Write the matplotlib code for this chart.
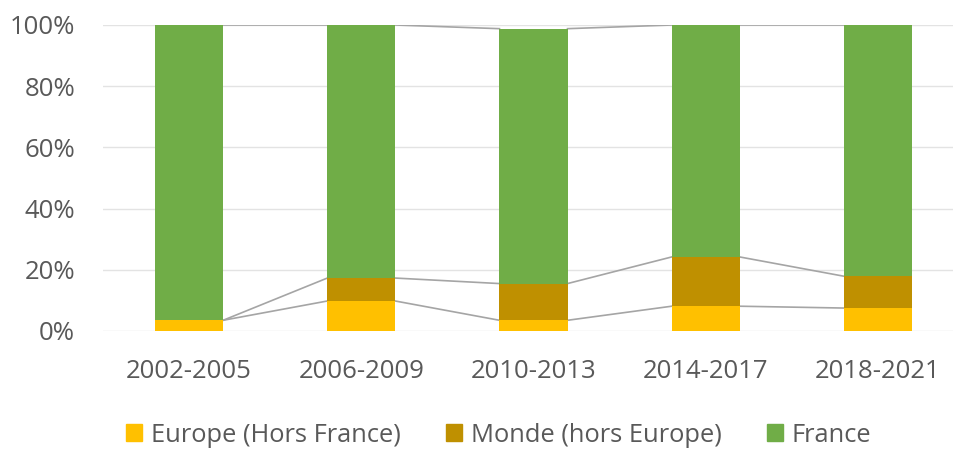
import numpy as np
import matplotlib.pyplot as plt
from matplotlib.patches import Patch

# Periods and shares (%)
periods = ["2002-2005", "2006-2009", "2010-2013", "2014-2017", "2018-2021"]
europe = [3.5, 9.8, 3.5, 8.1, 7.5]
monde = [0.0, 7.5, 12.0, 16.1, 10.4]
france = [96.5, 82.7, 83.3, 75.8, 82.1]

labels = ["Europe (Hors France)", "Monde (hors Europe)", "France"]
colors = ["#FFC000", "#BF9000", "#70AD47"]

plt.rcParams['font.family'] = ['Open Sans', 'DejaVu Sans']
txt = "#595959"

fig = plt.figure(figsize=(9.54, 4.5), dpi=100)
ax = fig.add_axes([103/954, 119/450, 861/954, 306/450])

x = np.arange(len(periods))
w = 0.395
series = [europe, monde, france]
bottom = np.zeros(len(periods))
tops = []
for vals, c in zip(series, colors):
    vals = np.array(vals)
    ax.bar(x, vals, w, bottom=bottom, color=c, zorder=3)
    bottom = bottom + vals
    tops.append(bottom.copy())

# series lines between bars
for t in tops:
    for i in range(len(periods) - 1):
        ax.plot([x[i] + w/2, x[i+1] - w/2], [t[i], t[i+1]],
                color="#A5A5A5", lw=1.2, zorder=2)

ax.set_xlim(-0.5, len(periods) - 0.5)
ax.set_ylim(0, 100)
ax.set_yticks(range(0, 101, 20))
ax.set_yticklabels([f"{v}%" for v in range(0, 101, 20)])
ax.set_xticks(x)
ax.set_xticklabels(periods)
ax.grid(axis="y", color="#E3E3E3", lw=1.0, zorder=0)
for s in ax.spines.values():
    s.set_visible(False)
ax.tick_params(length=0, labelsize=18.5, colors=txt)
ax.tick_params(axis="y", pad=20)
ax.tick_params(axis="x", pad=20)

handles = [Patch(color=c, label=l) for c, l in zip(colors, labels)]
leg = fig.legend(handles=handles, loc="center", bbox_to_anchor=(0.523, 0.033),
                 ncol=3, frameon=False, fontsize=18.4, handlelength=0.63,
                 handleheight=0.63, handletextpad=0.35, columnspacing=1.76)
for t in leg.get_texts():
    t.set_color(txt)

fig.savefig("out.png", dpi=100)
